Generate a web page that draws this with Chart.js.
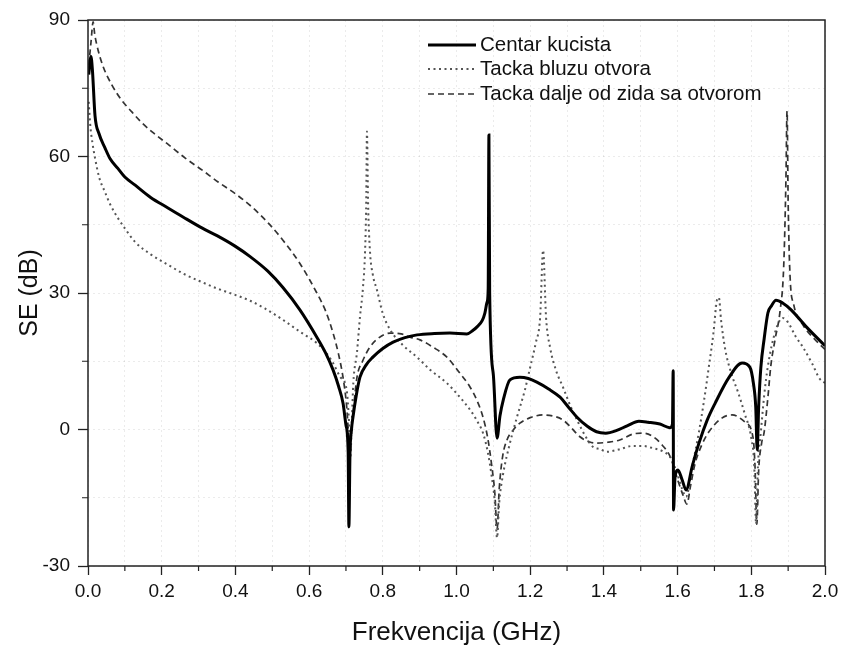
<!DOCTYPE html>
<html>
<head>
<meta charset="utf-8">
<script src="https://cdn.jsdelivr.net/npm/chart.js@4/dist/chart.umd.min.js"></script>
<style>
  html, body { margin: 0; padding: 0; background: #fff; }
  canvas { display: block; }
</style>
</head>
<body>
<canvas id="seChart" width="847" height="651"></canvas>
<script>
// Series data (frequency in GHz, SE in dB)
const seriesNames = ["Centar kucista", "Tacka bluzu otvora", "Tacka dalje od zida sa otvorom"];

const centerFreq = [0.002, 0.008, 0.012, 0.019, 0.03, 0.046, 0.06, 0.081, 0.1, 0.128, 0.17, 0.217, 0.26, 0.309, 0.35, 0.399, 0.44, 0.488, 0.529, 0.575, 0.621, 0.645, 0.665, 0.68, 0.692, 0.7, 0.706, 0.708, 0.711, 0.715, 0.719, 0.728, 0.738, 0.755, 0.773, 0.8, 0.828, 0.86, 0.893, 0.94, 0.982, 1.028, 1.045, 1.055, 1.07, 1.077, 1.083, 1.086, 1.088, 1.09, 1.1, 1.11, 1.118, 1.127, 1.145, 1.172, 1.195, 1.218, 1.25, 1.281, 1.305, 1.327, 1.355, 1.38, 1.405, 1.435, 1.463, 1.495, 1.52, 1.552, 1.579, 1.586, 1.588, 1.589, 1.593, 1.601, 1.612, 1.623, 1.64, 1.658, 1.68, 1.702, 1.74, 1.775, 1.796, 1.806, 1.812, 1.816, 1.82, 1.826, 1.835, 1.845, 1.855, 1.867, 1.885, 1.908, 1.95, 2.0];
const centerSE = [78, 82, 79, 69, 65, 61.9, 59.5, 57.4, 55.5, 53.7, 51, 48.7, 46.6, 44.3, 42.6, 40.3, 38.0, 34.8, 31.2, 26.3, 20.3, 16.8, 13.1, 9.5, 5.8, 1, -5, -21.4, -5, 0, 2.7, 7.5, 11.5, 14.2, 15.9, 17.8, 19.2, 20.2, 20.8, 21.1, 21.2, 21.0, 21.8, 22.5, 24, 25.6, 28, 31, 64.7, 30, 12, -1.9, 3, 6.5, 10.9, 11.5, 11.2, 10.4, 8.9, 7.1, 4.8, 2.7, 0.7, -0.5, -0.8, -0.2, 0.8, 1.8, 1.6, 1.2, 0.4, 1.2, 12.9, -17.7, -10.5, -8.9, -11, -13.3, -8, -3, 2, 5.8, 11.5, 14.6, 13.7, 10, 5, -4.5, 5, 13.7, 20, 25.6, 27.2, 28.4, 27.8, 26.3, 22.5, 18.4];

const nearFreq = [0.002, 0.006, 0.012, 0.019, 0.03, 0.046, 0.06, 0.081, 0.1, 0.128, 0.17, 0.217, 0.26, 0.309, 0.35, 0.399, 0.44, 0.48, 0.529, 0.575, 0.621, 0.645, 0.665, 0.685, 0.702, 0.708, 0.712, 0.716, 0.72, 0.73, 0.738, 0.746, 0.752, 0.755, 0.757, 0.76, 0.765, 0.773, 0.784, 0.8, 0.82, 0.855, 0.893, 0.93, 0.974, 1.005, 1.037, 1.055, 1.072, 1.085, 1.095, 1.104, 1.11, 1.116, 1.126, 1.145, 1.164, 1.185, 1.2, 1.215, 1.227, 1.235, 1.243, 1.254, 1.27, 1.289, 1.31, 1.327, 1.35, 1.37, 1.389, 1.408, 1.44, 1.479, 1.505, 1.533, 1.56, 1.582, 1.6, 1.612, 1.623, 1.64, 1.658, 1.672, 1.685, 1.697, 1.707, 1.712, 1.718, 1.729, 1.745, 1.764, 1.782, 1.8, 1.808, 1.813, 1.818, 1.826, 1.835, 1.845, 1.865, 1.885, 1.9, 1.92, 1.94, 1.965, 1.986, 2.0];
const nearSE = [72, 67, 63, 59.7, 55.5, 52.2, 49.5, 46.5, 44.2, 41.2, 38.5, 36.2, 34.2, 32.4, 31, 29.6, 28.3, 26.6, 24.1, 21.5, 19, 17, 14.6, 11.5, 8.7, 2, -6, 2, 10.2, 17, 24.7, 31, 39.4, 50, 65.5, 50, 39.4, 34, 30.7, 25.5, 21.9, 18.5, 15.9, 13, 10.2, 7.5, 4.3, 2, -0.8, -5, -10, -16, -23.8, -16, -10, -3, 2.7, 8.5, 13.7, 19, 24.7, 39.4, 24.7, 18, 13, 9.3, 5, 2.1, -1.5, -3.8, -4.3, -4.9, -4.4, -3.6, -3.6, -4.1, -4.8, -6.3, -10, -13, -14.8, -8, -0.5, 6.5, 13.9, 21, 28.5, 29, 24, 17.7, 12.5, 8.2, 3.5, -1.9, -8, -20.8, -8, -0.5, 7.5, 13.9, 21.5, 24.5, 23.5, 20.5, 18.1, 14.5, 11.1, 10.2];

const farFreq = [0.002, 0.008, 0.014, 0.018, 0.024, 0.04, 0.065, 0.09, 0.119, 0.145, 0.174, 0.22, 0.263, 0.31, 0.353, 0.4, 0.445, 0.49, 0.529, 0.575, 0.621, 0.645, 0.665, 0.68, 0.692, 0.702, 0.707, 0.711, 0.715, 0.72, 0.73, 0.745, 0.765, 0.79, 0.82, 0.85, 0.874, 0.901, 0.936, 0.974, 1.005, 1.037, 1.055, 1.072, 1.085, 1.096, 1.104, 1.11, 1.116, 1.125, 1.137, 1.155, 1.172, 1.2, 1.235, 1.265, 1.289, 1.31, 1.335, 1.36, 1.38, 1.41, 1.443, 1.479, 1.506, 1.532, 1.558, 1.58, 1.6, 1.615, 1.625, 1.636, 1.647, 1.665, 1.685, 1.72, 1.748, 1.783, 1.805, 1.81, 1.815, 1.82, 1.828, 1.835, 1.845, 1.853, 1.865, 1.878, 1.888, 1.894, 1.897, 1.9, 1.905, 1.915, 1.94, 1.97, 2.0];
const farSE = [80, 85, 89.6, 87, 84.5, 80, 75.7, 72.5, 69.8, 67.5, 65.4, 62.5, 59.7, 57, 54.4, 51.8, 48.9, 45.3, 41.6, 36.5, 30, 26, 21.2, 16.5, 11.5, 5, -1, -6, -1, 4, 11.5, 15, 18.1, 20.2, 21.2, 21, 20.3, 19.7, 18.1, 15.9, 12.8, 9.3, 6.5, 2.7, -2, -8.2, -14, -22, -13, -6, -2.3, 0, 1.4, 2.6, 3.2, 2.9, 2.1, 0.5, -1.6, -2.7, -3, -2.8, -2.3, -1, -0.8, -1.5, -3.4, -6, -11, -14.5, -16.4, -12, -7.6, -3.5, -0.5, 2.5, 3.2, 1.6, -1.9, -8, -20.8, -9, -3, -0.5, 7, 14, 20, 26, 36, 55, 70, 50, 34, 27.5, 23, 20, 17.6];

// Axis ticks
const xMin = 0, xMax = 2.0, xStep = 0.1;
const yMin = -30, yMax = 90, yStep = 15;
const xLabelTicks = [0.0, 0.2, 0.4, 0.6, 0.8, 1.0, 1.2, 1.4, 1.6, 1.8, 2.0];
const yLabelTicks = [-30, 0, 30, 60, 90];

function toPoints(xs, ys) {
  return xs.map((x, i) => ({ x: x, y: ys[i] }));
}

function isLabelTick(v, list) {
  return list.some(t => Math.abs(t - v) < 1e-6);
}

const FONT = "'Liberation Sans', Arial, sans-serif";

// frame around the plot + short minor ticks
const framePlugin = {
  id: "frame",
  afterDraw(chart) {
    const { ctx, chartArea: a, scales } = chart;
    ctx.save();
    ctx.strokeStyle = "#222";
    ctx.lineWidth = 1.5;
    ctx.setLineDash([]);
    ctx.strokeRect(a.left, a.top, a.right - a.left, a.bottom - a.top);

    ctx.lineWidth = 1.2;
    ctx.beginPath();
    scales.x.ticks.forEach(t => {
      if (isLabelTick(t.value, xLabelTicks)) return;
      const px = scales.x.getPixelForValue(t.value);
      ctx.moveTo(px, a.bottom);
      ctx.lineTo(px, a.bottom + 5);
    });
    scales.y.ticks.forEach(t => {
      if (isLabelTick(t.value, yLabelTicks)) return;
      const py = scales.y.getPixelForValue(t.value);
      ctx.moveTo(a.left, py);
      ctx.lineTo(a.left - 6, py);
    });
    ctx.stroke();
    ctx.restore();
  }
};

// legend drawn inside the plot, upper middle
const legendPlugin = {
  id: "innerLegend",
  afterDatasetsDraw(chart) {
    const { ctx, chartArea: a } = chart;
    const x0 = a.left + 340;
    const rows = [25, 49, 74];
    ctx.save();
    ctx.font = "20.5px " + FONT;
    ctx.textBaseline = "middle";
    ctx.fillStyle = "#111";
    chart.data.datasets.forEach((ds, i) => {
      const y = a.top + rows[i];
      ctx.strokeStyle = ds.borderColor;
      ctx.lineWidth = ds.borderWidth;
      ctx.setLineDash(ds.borderDash || []);
      ctx.beginPath();
      ctx.moveTo(x0, y);
      ctx.lineTo(x0 + 48, y);
      ctx.stroke();
      ctx.fillText(ds.label, x0 + 52, y);
    });
    ctx.restore();
  }
};

const ctx = document.getElementById("seChart").getContext("2d");
new Chart(ctx, {
  type: "line",
  data: {
    datasets: [
      {
        label: seriesNames[0],
        data: toPoints(centerFreq, centerSE),
        borderColor: "#000",
        borderWidth: 3,
        borderDash: [],
        pointRadius: 0,
        cubicInterpolationMode: "monotone"
      },
      {
        label: seriesNames[1],
        data: toPoints(nearFreq, nearSE),
        borderColor: "#555",
        borderWidth: 2,
        borderDash: [2, 3.5],
        pointRadius: 0,
        cubicInterpolationMode: "monotone"
      },
      {
        label: seriesNames[2],
        data: toPoints(farFreq, farSE),
        borderColor: "#333",
        borderWidth: 1.7,
        borderDash: [6, 4],
        pointRadius: 0,
        cubicInterpolationMode: "monotone"
      }
    ]
  },
  options: {
    responsive: false,
    animation: false,
    devicePixelRatio: 1,
    layout: { padding: { left: 0, right: 22, top: 20, bottom: 0 } },
    plugins: {
      legend: { display: false },
      tooltip: { enabled: false }
    },
    scales: {
      x: {
        type: "linear",
        min: xMin,
        max: xMax,
        afterFit: s => { s.height = 85; },
        ticks: {
          stepSize: xStep,
          autoSkip: false,
          maxRotation: 0,
          padding: 5,
          color: "#111",
          font: { family: FONT, size: 19 },
          callback: v => isLabelTick(v, xLabelTicks) ? v.toFixed(1) : ""
        },
        grid: {
          color: "rgba(0,0,0,0.08)",
          lineWidth: 1,
          tickLength: 9,
          tickWidth: 1.3,
          tickColor: c => (c.tick && isLabelTick(c.tick.value, xLabelTicks)) ? "#222" : "rgba(0,0,0,0)"
        },
        border: { display: false, dash: [2, 3] },
        title: {
          display: true,
          text: "Frekvencija (GHz)",
          color: "#111",
          font: { family: FONT, size: 26 },
          padding: { top: 0, bottom: 3 }
        }
      },
      y: {
        type: "linear",
        min: yMin,
        max: yMax,
        afterFit: s => { s.width = 88; },
        ticks: {
          stepSize: yStep,
          autoSkip: false,
          padding: 8,
          color: "#111",
          font: { family: FONT, size: 19 },
          callback: v => isLabelTick(v, yLabelTicks) ? String(v) : ""
        },
        grid: {
          color: "rgba(0,0,0,0.08)",
          lineWidth: 1,
          tickLength: 10,
          tickWidth: 1.3,
          tickColor: c => (c.tick && isLabelTick(c.tick.value, yLabelTicks)) ? "#222" : "rgba(0,0,0,0)"
        },
        border: { display: false, dash: [2, 3] },
        title: {
          display: true,
          text: "SE (dB)",
          color: "#111",
          font: { family: FONT, size: 25 },
          padding: { top: 15, bottom: 0 }
        }
      }
    }
  },
  plugins: [framePlugin, legendPlugin]
});
</script>
</body>
</html>
